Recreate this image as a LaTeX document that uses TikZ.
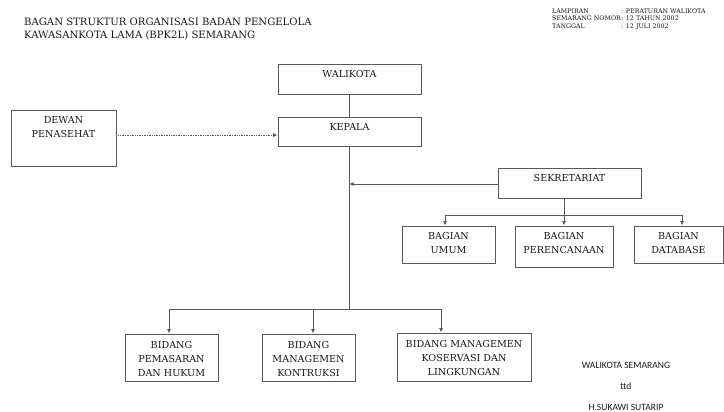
\documentclass[tikz,border=0pt]{standalone}
\usepackage{fontspec}
\setmainfont{DejaVu Serif}
\newfontfamily\ttdfont{Carlito}
\usetikzlibrary{arrows.meta}
\usetikzlibrary{positioning}

\tikzset{
	kotak/.style={draw=black!65, line width=0.9pt, inner sep=0pt},
	isi/.style={align=center, inner sep=0pt, text=black!90,
		font=\fontsize{9.6}{14}\selectfont},
	judul/.style={anchor=base west, inner sep=0pt, text=black!90,
		font=\fontsize{10.1}{13}\selectfont},
	kecil/.style={anchor=base west, inner sep=0pt, text=black!90,
		font=\fontsize{6.3}{7}\selectfont},
	ttd/.style={anchor=base, inner sep=0pt, text=black!90,
		font=\ttdfont\fontsize{9.6}{10}\selectfont},
	garis/.style={draw=black!65, line width=0.9pt},
	panah/.style={garis, -{Latex[length=4.5pt,width=4pt]}},
	titik/.style={draw=black!65, line width=0.7pt, densely dotted,
		-{Latex[length=4.5pt,width=4pt]}}
}

\begin{document}
\begin{tikzpicture}[x=1pt,y=-1pt]
	\useasboundingbox (0,0) rectangle (724,412);

	% judul
	\node[judul] (judul1) at (24,25.7) {BAGAN STRUKTUR ORGANISASI BADAN PENGELOLA};
	\node[judul] (judul2) at (24,38.7) {KAWASANKOTA LAMA (BPK2L) SEMARANG};

	% lampiran
	\node[kecil] (lamp1) at (552,13.8) {LAMPIRAN};
	\node[kecil] (lamp2) at (552,21) {SEMARANG NOMOR};
	\node[kecil] (lamp3) at (552,28.6) {TANGGAL};
	\node[kecil] (nilai1) at (621,13.8) {: PERATURAN WALIKOTA};
	\node[kecil] (nilai2) at (621,21) {: 12 TAHUN 2002};
	\node[kecil] (nilai3) at (621,28.6) {: 12 JULI 2002};

	% kotak
	\node[kotak, minimum width=143, minimum height=30] (walikota) at (349.5,79) {};
	\node[kotak, minimum width=143, minimum height=29] (kepala) at (349.5,131.5) {};
	\node[kotak, minimum width=105, minimum height=56] (dewan) at (63.5,138) {};
	\node[kotak, minimum width=143, minimum height=30] (sekretariat) at (569.5,183) {};
	\node[kotak, minimum width=93, minimum height=37] (umum) at (448.5,244.5) {};
	\node[kotak, minimum width=98, minimum height=41] (perencanaan) at (564,246.5) {};
	\node[kotak, minimum width=89, minimum height=37] (database) at (678.5,244.5) {};
	\node[kotak, minimum width=93, minimum height=47] (pemasaran) at (171.5,357.5) {};
	\node[kotak, minimum width=93, minimum height=47] (kontruksi) at (308.5,357.5) {};
	\node[kotak, minimum width=134, minimum height=48] (koservasi) at (464,357) {};

	% tulisan kotak
	\node[isi, below=7pt of walikota.north] (t-walikota) {WALIKOTA};
	\node[isi, below=6.5pt of kepala.north] (t-kepala) {KEPALA};
	\node[isi, below=6.7pt of dewan.north] (t-dewan) {DEWAN\\PENASEHAT};
	\node[isi, below=7pt of sekretariat.north] (t-sekretariat) {SEKRETARIAT};
	\node[isi, below=6.7pt of umum.north] (t-umum) {BAGIAN\\UMUM};
	\node[isi, below=6.7pt of perencanaan.north] (t-perencanaan) {BAGIAN\\PERENCANAAN};
	\node[isi, below=6.7pt of database.north] (t-database) {BAGIAN\\DATABASE};
	\node[isi, below=7.5pt of pemasaran.north] (t-pemasaran) {BIDANG\\PEMASARAN\\DAN HUKUM};
	\node[isi, below=7.5pt of kontruksi.north] (t-kontruksi) {BIDANG\\MANAGEMEN\\KONTRUKSI};
	\node[isi, below=7.5pt of koservasi.north] (t-koservasi) {BIDANG MANAGEMEN\\KOSERVASI DAN\\LINGKUNGAN};

	% titik cabang
	\coordinate (kiri) at (445,215);
	\coordinate (cabang) at (564,215);
	\coordinate (kanan) at (682,215);
	\coordinate (bawah) at (349,309);
	\coordinate (b-kiri) at (169,309);
	\coordinate (b-tengah) at (313,309);
	\coordinate (b-kanan) at (441,309);

	% garis
	\draw[garis] (walikota) -- (kepala);
	\draw[titik] ([yshift=3pt]dewan.east) -- ([yshift=3pt]dewan.east -| kepala.west);
	\draw[garis] (kepala.south -| bawah) -- (bawah);
	\draw[panah] ([yshift=-1pt]sekretariat.west) -- ([yshift=-1pt]sekretariat.west -| bawah);

	\draw[garis] (sekretariat.south -| cabang) -- (cabang);
	\draw[garis] (kiri) -- (kanan);
	\draw[panah] (kiri) -- (kiri |- umum.north);
	\draw[panah] (cabang) -- (perencanaan.north);
	\draw[panah] (kanan) -- (kanan |- database.north);

	\draw[garis] (b-kiri) -- (b-kanan);
	\draw[panah] (b-kiri) -- (b-kiri |- pemasaran.north);
	\draw[panah] (b-tengah) -- (b-tengah |- kontruksi.north);
	\draw[panah] (b-kanan) -- (b-kanan |- koservasi.north);

	% tanda tangan
	\node[ttd] (ttd1) at (626,368.3) {WALIKOTA SEMARANG};
	\node[ttd] (ttd2) at (626,389.5) {ttd};
	\node[ttd] (ttd3) at (626,410.3) {H.SUKAWI SUTARIP};
\end{tikzpicture}
\end{document}
